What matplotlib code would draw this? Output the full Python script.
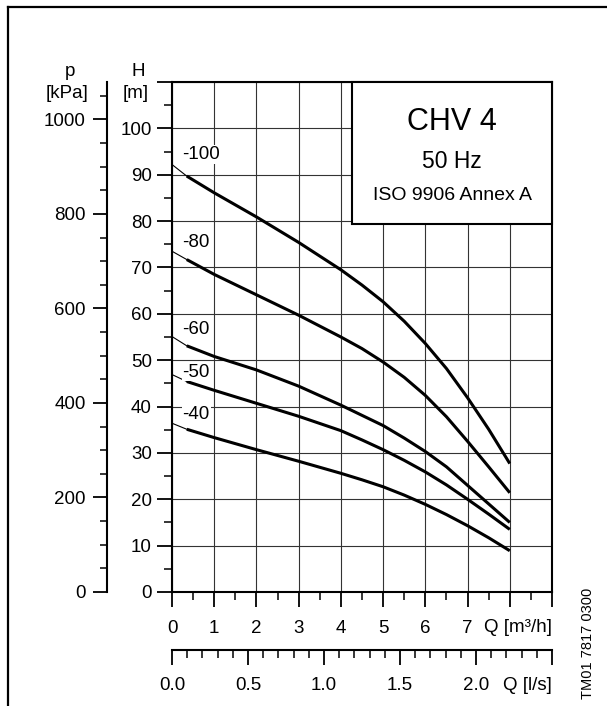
import matplotlib
matplotlib.use('Agg')
import matplotlib.pyplot as plt
from matplotlib.ticker import MultipleLocator
from matplotlib.lines import Line2D
from matplotlib.patches import Rectangle

plt.rcParams['font.family'] = ['Liberation Sans', 'DejaVu Sans']

# Q [m3/h] 读图得到的点
q = [0, 0.35, 1, 2, 3, 4, 4.5, 5, 5.5, 6, 6.5, 7, 7.5, 8]
h_100 = [92.2, 89.7, 86.1, 80.9, 75.4, 69.5, 66.2, 62.6, 58.4, 53.6, 48.2, 41.9, 35.1, 27.7]
h_80 = [73.5, 71.7, 68.5, 64.1, 59.7, 55.0, 52.5, 49.6, 46.3, 42.4, 37.8, 32.5, 27.0, 21.4]
h_60 = [55.1, 53.1, 50.8, 47.9, 44.4, 40.3, 38.1, 35.9, 33.2, 30.3, 27.0, 23.0, 19.0, 15.0]
h_50 = [46.9, 45.4, 43.5, 40.7, 37.9, 34.8, 32.8, 30.7, 28.4, 25.9, 23.1, 20.0, 16.8, 13.5]
h_40 = [36.4, 35.1, 33.3, 30.7, 28.2, 25.6, 24.2, 22.7, 20.9, 18.9, 16.7, 14.3, 11.7, 8.9]
curve_names = ['-100', '-80', '-60', '-50', '-40']
curves = [h_100, h_80, h_60, h_50, h_40]

q_ticks = [0, 1, 2, 3, 4, 5, 6, 7, 8, 9]
q_labels = ['0', '1', '2', '3', '4', '5', '6', '7', '', '']
ls_ticks = [0, 0.5, 1.0, 1.5, 2.0, 2.5]
ls_labels = ['0.0', '0.5', '1.0', '1.5', '2.0', '']
h_ticks = list(range(0, 111, 10))
h_labels = [str(v) for v in range(0, 101, 10)] + ['']
p_ticks = [0, 200, 400, 600, 800, 1000]

W, H = 607, 706
fs = 13.5
fig = plt.figure(figsize=(W / 100, H / 100), dpi=100)
ax = fig.add_axes([172 / W, 1 - 592 / H, 380 / W, 510 / H])
ax.set_xlim(0, 9)
ax.set_ylim(0, 110)

# 网格
ax.set_xticks(q_ticks)
ax.set_xticklabels(q_labels, fontsize=fs)
ax.xaxis.set_minor_locator(MultipleLocator(0.5))
ax.set_yticks(h_ticks)
ax.set_yticklabels(h_labels, fontsize=fs)
ax.yaxis.set_minor_locator(MultipleLocator(5))
ax.grid(True, which='major', color='#333333', linewidth=0.8)
ax.set_axisbelow(True)
for s in ax.spines.values():
    s.set_linewidth(1.5)
ax.tick_params(which='major', length=10.5, width=1.3, pad=10)
ax.tick_params(which='minor', length=5.5, width=1.1)
ax.tick_params(axis='y', which='major', pad=4)

# 曲线：开头一小段细线
for name, h in zip(curve_names, curves):
    ax.plot(q[:2], h[:2], color='black', linewidth=0.8, zorder=3)
    ax.plot(q[1:], h[1:], color='black', linewidth=2.2, zorder=3,
            solid_capstyle='butt', solid_joinstyle='round')

label_y = [94.4, 75.3, 56.6, 47.4, 38.2]
for name, y in zip(curve_names, label_y):
    ax.text(0.25, y, name, fontsize=fs, ha='left', va='center', zorder=4,
            bbox=dict(facecolor='white', edgecolor='none', pad=0.5))

# 标题框
ax.add_patch(Rectangle((0.4737, 0.7216), 1 - 0.4737, 1 - 0.7216,
                       transform=ax.transAxes, facecolor='white',
                       edgecolor='black', linewidth=1.5, zorder=5,
                       clip_on=False))
ax.text(0.737, 0.922, 'CHV 4', transform=ax.transAxes, fontsize=22,
        ha='center', va='center', zorder=6)
ax.text(0.737, 0.8437, '50 Hz', transform=ax.transAxes, fontsize=16.5,
        ha='center', va='center', zorder=6)
ax.text(0.737, 0.778, 'ISO 9906 Annex A', transform=ax.transAxes,
        fontsize=14, ha='center', va='center', zorder=6)

# Q 单位
ax.text(9, -0.07, 'Q [m³/h]', transform=ax.get_xaxis_transform(),
        fontsize=fs, ha='right', va='center')

# l/s 轴
sec = ax.secondary_xaxis(-57.5 / 510, functions=(lambda x: x / 3.6,
                                                   lambda x: x * 3.6))
sec.set_xticks(ls_ticks)
sec.set_xticklabels(ls_labels, fontsize=fs)
sec.xaxis.set_minor_locator(MultipleLocator(0.1))
sec.spines['bottom'].set_linewidth(1.5)
sec.tick_params(which='major', length=10.5, width=1.3, pad=9.5)
sec.tick_params(which='minor', length=5.5, width=1.1)
ax.text(9, -0.183, 'Q [l/s]', transform=ax.get_xaxis_transform(),
        fontsize=fs, ha='right', va='center')

# p 轴
secy = ax.secondary_yaxis(-65.3 / 380, functions=(lambda x: x * 9.81,
                                                   lambda x: x / 9.81))
secy.set_yticks(p_ticks)
secy.set_yticklabels([str(v) for v in p_ticks], fontsize=fs)
secy.yaxis.set_minor_locator(MultipleLocator(50))
secy.spines['left'].set_linewidth(1.5)
secy.tick_params(which='major', length=10, width=1.3, pad=5)
secy.tick_params(which='minor', length=5, width=1.1)

# 轴标题
fig.text(70 / W, 1 - 72 / H, 'p', fontsize=fs, ha='center', va='center')
fig.text(67 / W, 1 - 93 / H, '[kPa]', fontsize=fs, ha='center', va='center')
fig.text(138 / W, 1 - 72 / H, 'H', fontsize=fs, ha='center', va='center')
fig.text(136 / W, 1 - 93 / H, '[m]', fontsize=fs, ha='center', va='center')

fig.text(588 / W, 1 - 643 / H, 'TM01 7817 0300', fontsize=10.5,
         rotation=90, ha='center', va='center')

# 外框
fig.add_artist(Line2D([8 / W, 8 / W], [0, 1 - 7 / H], color='black',
                      linewidth=1.6, transform=fig.transFigure))
fig.add_artist(Line2D([8 / W, 1], [1 - 7 / H, 1 - 7 / H], color='black',
                      linewidth=1.6, transform=fig.transFigure))

fig.savefig('out.png', dpi=100)
